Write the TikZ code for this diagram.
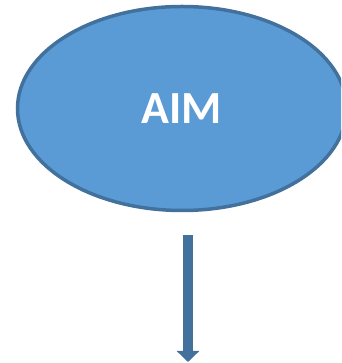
\documentclass[tikz,border=0pt]{standalone}
\usepackage{fontspec}
\setmainfont{Carlito}
\usetikzlibrary{arrows.meta}
\usetikzlibrary{shapes.geometric}

\definecolor{aimfill}{HTML}{5B9BD5}
\definecolor{aimline}{HTML}{41719C}

\begin{document}
\begin{tikzpicture}[x=1pt,y=1pt]

    % fix the page to the size of the reference
    \useasboundingbox (0,0) rectangle (341,363);
    \clip (0,0) rectangle (341,363);

    % the aim ellipse
    \node [ellipse, draw=aimline, fill=aimfill, line width=3.5pt,
           minimum width=329pt, minimum height=204pt, inner sep=0pt,
           text=white, font=\bfseries\fontsize{46}{50}\selectfont] (aim) at (182,254.5) {AIM};

    % arrow below it
    \coordinate (arrowtop) at (188,128);
    \coordinate (arrowend) at (188,1);
    \draw [-{Triangle[length=11pt,width=22pt]}, line width=10pt, aimline] (arrowtop) -- (arrowend);

\end{tikzpicture}
\end{document}
